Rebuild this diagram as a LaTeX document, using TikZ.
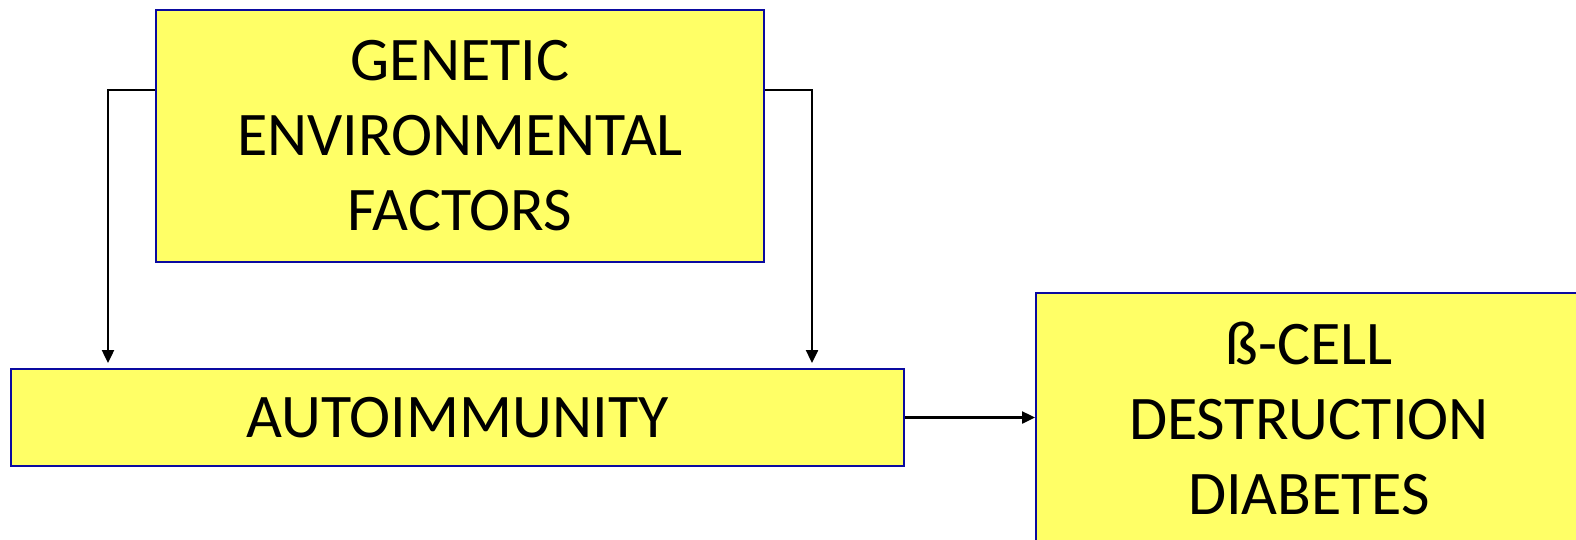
\documentclass[tikz,border=0pt]{standalone}
\usepackage{fontspec}
\setmainfont{Carlito}
\usetikzlibrary{arrows.meta}
\definecolor{boxfill}{HTML}{FFFF66}
\definecolor{boxline}{HTML}{0A0AA0}
\begin{document}
\begin{tikzpicture}[x=1pt,y=-1pt,
  box/.style={draw=boxline, line width=2pt, fill=boxfill, inner sep=0pt, align=center,
    font=\fontsize{62}{75}\selectfont},
  arr/.style={line width=2.4pt, -{Triangle[length=13pt,width=12pt]}}]
\useasboundingbox (0,0) rectangle (1576,539);
\clip (0,0) rectangle (1576,539);
\node[box, minimum width=608pt, minimum height=252pt] (gen) at (460,136) {GENETIC\\ENVIRONMENTAL\\FACTORS};
\node[box, minimum width=893pt, minimum height=97pt] (auto) at (457.5,417.5) {AUTOIMMUNITY};
\node[box, minimum width=546pt, minimum height=250pt] (dest) at (1309,418) {ß-CELL\\DESTRUCTION\\DIABETES};
\coordinate (la) at (108,90);
\coordinate (ra) at (812,90);
\draw[arr, shorten >=5pt] (gen.west |- la) -| (la |- auto.north);
\draw[arr, shorten >=5pt] (gen.east |- ra) -| (ra |- auto.north);
\draw[arr] (auto.east) -- (auto.east -| dest.west);
\end{tikzpicture}
\end{document}
